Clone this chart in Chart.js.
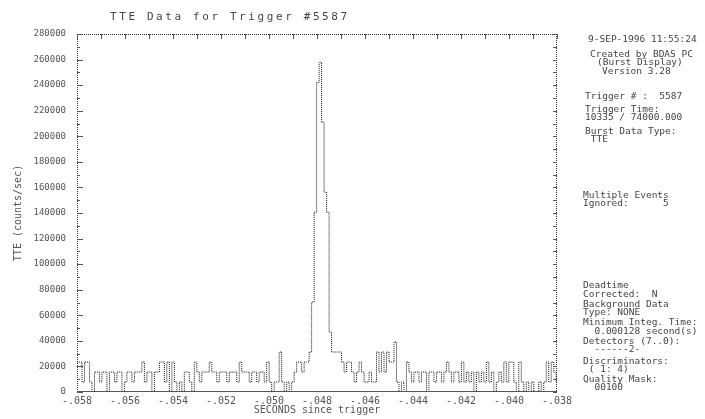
<!DOCTYPE html>
<html>
<head>
<meta charset="utf-8">
<script src="https://cdn.jsdelivr.net/npm/chart.js@4.4.1/dist/chart.umd.min.js"></script>
<style>
  html, body { margin: 0; padding: 0; background: #fff; }
  #wrap { position: relative; width: 705px; height: 419px; }
</style>
</head>
<body>
<div id="wrap"><canvas id="tteChart"></canvas></div>
<script>
// time bins (seconds since trigger)
const binStart = -0.058;
const binWidth = 0.000104;

// rate per bin
const rates = [
  23438, 23438, 7812, 23438, 23438, 7812, 0, 15625, 15625, 7812, 15625, 15625, 0, 15625, 15625, 7812,
  15625, 15625, 0, 7812, 15625, 15625, 7812, 15625, 15625, 15625, 23438, 7812, 15625, 15625, 0, 15625,
  15625, 23438, 23438, 7812, 23438, 0, 23438, 7812, 0, 7812, 0, 15625, 15625, 7812, 0, 23438,
  15625, 7812, 15625, 15625, 15625, 23438, 15625, 15625, 7812, 15625, 15625, 15625, 7812, 15625, 15625, 15625,
  7812, 23438, 15625, 15625, 15625, 7812, 15625, 15625, 7812, 15625, 15625, 7812, 23438, 7812, 0, 7812,
  7812, 31250, 7812, 0, 7812, 0, 7812, 15625, 23438, 23438, 15625, 23438, 23438, 31250, 70313, 140625,
  242188, 257813, 210938, 156250, 140625, 46875, 31250, 31250, 31250, 31250, 23438, 15625, 23438, 23438, 15625, 7812,
  15625, 23438, 15625, 7812, 7812, 15625, 7812, 7812, 31250, 15625, 31250, 15625, 31250, 23438, 23438, 39063,
  7812, 0, 7812, 0, 23438, 15625, 7812, 15625, 15625, 7812, 15625, 15625, 0, 15625, 15625, 7812,
  15625, 15625, 7812, 15625, 23438, 15625, 7812, 15625, 15625, 7812, 23438, 7812, 15625, 7812, 15625, 0,
  15625, 7812, 15625, 7812, 23438, 7812, 15625, 0, 7812, 15625, 7812, 23438, 7812, 23438, 23438, 7812,
  0, 23438, 7812, 0, 7812, 0, 7812, 0, 0, 7812, 0, 7812, 23438, 7812, 23438, 15625, 7812
];

const xTicks = [-0.058, -0.038, 0.002];   // min, max, step
const yTicks = [0, 280000, 20000];

const titleText = 'TTE Data for Trigger #5587';
const sideLines = [
  ['9-SEP-1996 11:55:24', 588, 40],
  ['Created by BDAS PC', 590, 55],
  ['(Burst Display)', 597, 63],
  ['Version 3.28', 602, 72],
  ['Trigger # :  5587', 585, 97],
  ['Trigger Time:', 585, 110],
  ['10335 / 74000.000', 585, 118],
  ['Burst Data Type:', 585, 132],
  [' TTE', 585, 140],
  ['Multiple Events', 583, 196],
  ['Ignored:      5', 583, 204],
  ['Deadtime', 583, 286],
  ['Corrected:  N', 583, 295],
  ['Background Data', 583, 305],
  ['Type: NONE', 583, 313],
  ['Minimum Integ. Time:', 583, 323],
  ['  0.000128 second(s)', 583, 332],
  ['Detectors (7..0):', 583, 342],
  ['  ------2-', 583, 350],
  ['Discriminators:', 583, 362],
  [' ( 1: 4)', 583, 370],
  ['Quality Mask:', 583, 380],
  ['  00100', 583, 388]
];

const points = rates.map((r, i) => ({ x: binStart + i * binWidth, y: r }));
points.push({ x: binStart + rates.length * binWidth, y: rates[rates.length - 1] });

Chart.defaults.font.family = 'DejaVu Sans Mono';
Chart.defaults.color = '#555';

// frame with inward ticks, like the old plotter output
const frameTicks = {
  id: 'frameTicks',
  afterDatasetsDraw(chart) {
    const { ctx, chartArea: a, scales: { x, y } } = chart;
    ctx.save();
    ctx.lineWidth = 1;
    ctx.strokeStyle = '#333';
    ctx.setLineDash([1, 1]);
    ctx.beginPath();
    ctx.moveTo(a.left + 0.5, a.bottom); ctx.lineTo(a.left + 0.5, a.top + 0.5);
    ctx.lineTo(a.right - 0.5, a.top + 0.5); ctx.lineTo(a.right - 0.5, a.bottom);
    ctx.stroke();
    ctx.setLineDash([]);
    ctx.strokeStyle = '#555';
    ctx.beginPath();
    ctx.moveTo(a.left, a.bottom - 0.5); ctx.lineTo(a.right, a.bottom - 0.5);
    for (let t = x.min; t <= x.max + 1e-9; t += 0.001) {
      const px = Math.round(x.getPixelForValue(t)) + 0.5;
      ctx.moveTo(px, a.top); ctx.lineTo(px, a.top + 5);
    }
    for (let v = y.min; v <= y.max; v += 10000) {
      const py = Math.round(y.getPixelForValue(v)) + 0.5;
      const len = v % 20000 === 0 ? 6 : 3;
      ctx.moveTo(a.left, py); ctx.lineTo(a.left + len, py);
      ctx.moveTo(a.right, py); ctx.lineTo(a.right - 4, py);
    }
    ctx.stroke();
    ctx.restore();
  }
};

// title and the info column on the right
const sideText = {
  id: 'sideText',
  afterDraw(chart) {
    const ctx = chart.ctx;
    ctx.save();
    ctx.fillStyle = '#444';
    ctx.textBaseline = 'middle';
    ctx.font = '11px "DejaVu Sans Mono"';
    ctx.letterSpacing = '2.6px';
    ctx.fillText(titleText, 110, 17);
    ctx.letterSpacing = '0px';
    ctx.font = '9.5px "DejaVu Sans Mono"';
    sideLines.forEach(([txt, lx, ly]) => ctx.fillText(txt, lx, ly));
    ctx.restore();
  }
};

new Chart(document.getElementById('tteChart'), {
  type: 'line',
  data: {
    datasets: [{
      data: points,
      stepped: true,
      borderColor: '#111',
      borderWidth: 1,
      borderDash: [1, 1],
      pointRadius: 0,
      fill: false
    }]
  },
  options: {
    responsive: true,
    maintainAspectRatio: false,
    animation: false,
    layout: { padding: { top: 34, right: 148, left: 0, bottom: 0 } },
    plugins: { legend: { display: false }, tooltip: { enabled: false } },
    scales: {
      x: {
        type: 'linear',
        min: xTicks[0],
        max: xTicks[1],
        afterFit(scale) { scale.height = 27; },
        grid: { display: false, drawTicks: false },
        border: { display: false },
        ticks: {
          stepSize: xTicks[2],
          padding: 3,
          maxRotation: 0,
          autoSkip: false,
          font: { size: 10 },
          callback: v => (v < 0 ? '-' : '') + Math.abs(v).toFixed(3).replace(/^0/, '')
        },
        title: { display: true, text: 'SECONDS since trigger', font: { size: 10 }, padding: { top: 0, bottom: 3 } }
      },
      y: {
        min: yTicks[0],
        max: yTicks[1],
        afterFit(scale) { scale.width = 77; },
        grid: { display: false, drawTicks: false },
        border: { display: false },
        ticks: { stepSize: yTicks[2], padding: 11, font: { size: 9 }, callback: v => String(v) },
        title: { display: true, text: 'TTE (counts/sec)', font: { size: 10 }, padding: { top: 12, bottom: 0 } }
      }
    }
  },
  plugins: [frameTicks, sideText]
});
</script>
</body>
</html>
